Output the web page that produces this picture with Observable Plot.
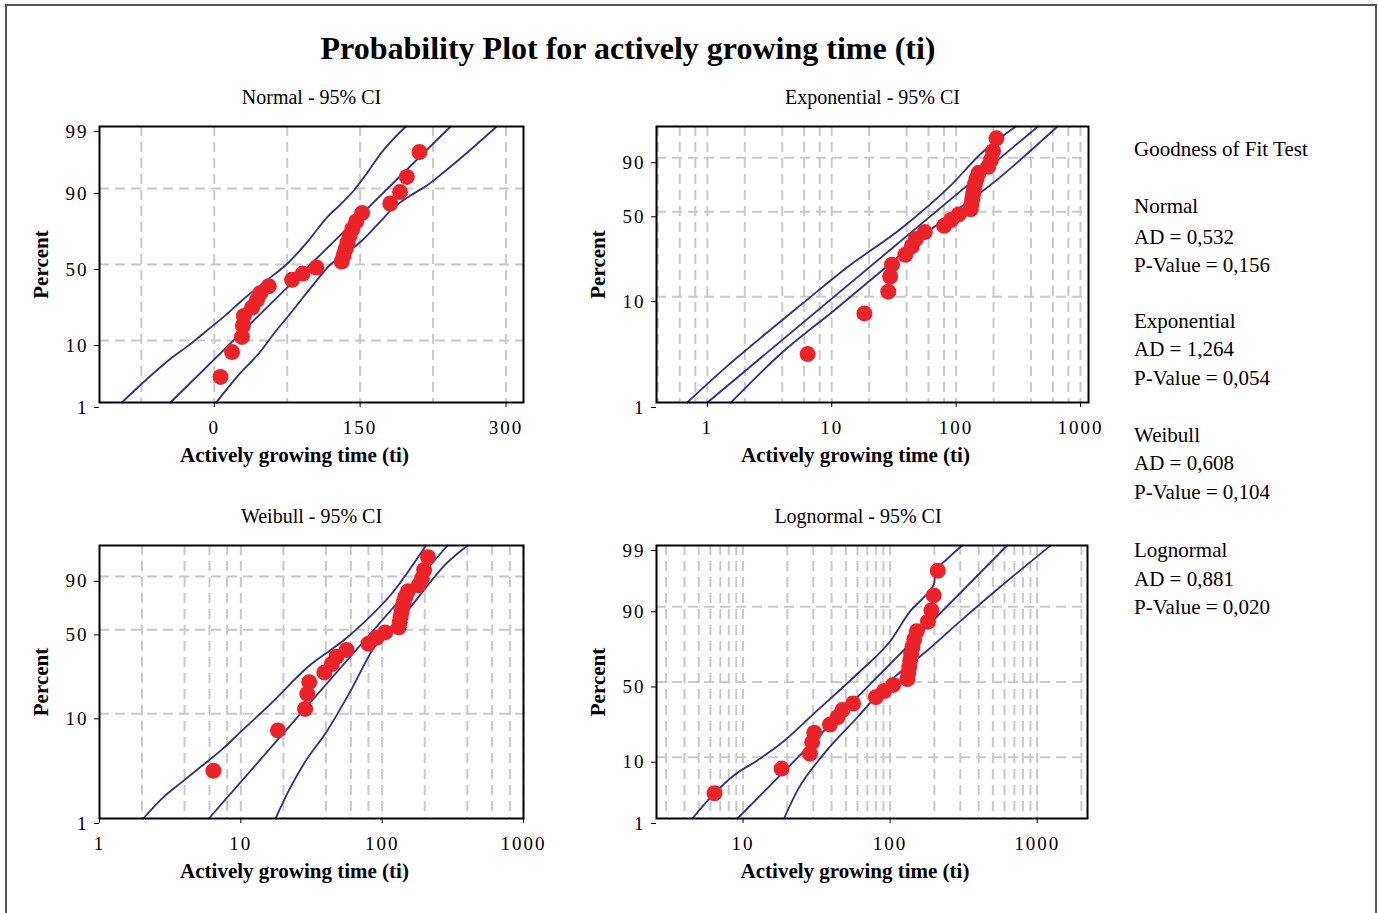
<!DOCTYPE html>
<html><head><meta charset="utf-8">
<script src="https://cdn.jsdelivr.net/npm/d3@7"></script>
<script src="https://cdn.jsdelivr.net/npm/@observablehq/plot@0.6"></script>
<style>
body{margin:0;background:#fff;}
#root{position:relative;width:1378px;height:913px;overflow:hidden;background:#fff;font-family:'Liberation Serif',serif;color:#000;}
#border{position:absolute;left:5px;top:4px;width:1372px;height:940px;border:2px solid #555;box-sizing:border-box;}
#title{position:absolute;left:0;width:1256px;top:29px;text-align:center;font-weight:bold;font-size:32px;line-height:38px;}
.panel{position:absolute;}
.panel svg [aria-label$="tick label"] text{letter-spacing:2px;}
.side{position:absolute;left:1134px;font-size:21px;line-height:24px;white-space:nowrap;}
</style>
</head><body>
<div id="root">
  <div id="border"></div>
  <div id="title">Probability Plot for actively growing time (ti)</div>
</div>
<script>
// ---- data ----
const growTime = [6.4, 18.3, 28.5, 29.5, 30.5, 39, 44, 47.5, 56, 80, 91, 105, 131, 133, 135, 137, 139, 142, 146, 152, 181, 191, 198, 211];
const rankPct  = [2.9, 7.0, 11.1, 15.2, 19.3, 23.4, 27.5, 31.6, 35.7, 39.8, 43.9, 48.0, 52.0, 56.1, 60.2, 64.3, 68.4, 72.5, 76.6, 80.7, 84.8, 88.9, 93.0, 97.1];

// Normal fit and 95% CI
const normalFitX = [-45, 243];           const normalFitP = [1, 99];
const normalLoX = [-95, -70, -45, -25, -7.5, 10, 28.5, 52, 75, 96, 116, 130, 143.5, 157, 171, 197];
const normalLoP = [1, 2.6, 5.6, 8.9, 13.3, 19.0, 27.2, 38.5, 50.5, 65.0, 78.7, 84.5, 89.4, 93.8, 96.9, 99];
const normalHiX = [2, 24, 47, 62, 78, 99, 119.5, 135, 150, 168, 185, 202, 219, 236, 253, 290.5];
const normalHiP = [1, 3.0, 7.0, 12.5, 20.3, 34.5, 50, 57.5, 64.6, 75.0, 83.3, 87.8, 90.9, 94.0, 96.3, 99];

// Exponential fit and 95% CI
const expFitX = [1.0, 455];              const expFitP = [1, 99];
const expLoX = [0.687, 1.37, 3.06, 6.0, 13.4, 36, 90.6, 158, 302];
const expLoP = [1, 2.11, 4.7, 8.9, 18.4, 37.9, 71.2, 91.9, 99];
const expHiX = [1.55, 3.91, 10.5, 26.4, 66.6, 202, 653];
const expHiP = [1, 2.94, 7.5, 17.8, 39, 73.8, 99];

// Weibull fit and 95% CI
const wblFitX = [5.94, 290];             const wblFitP = [1, 99];
const wblLoX = [2.04, 2.85, 3.9, 5.19, 7.2, 9.97, 16.3, 29.6, 56.8, 121.4, 204];
const wblLoP = [1, 1.62, 2.3, 3.15, 4.5, 6.77, 12.4, 25.9, 44.4, 81.1, 99];
const wblHiX = [17.6, 22, 28.0, 41, 60, 87.6, 151, 290, 402];
const wblHiP = [1, 1.9, 3.4, 7.0, 16.3, 37.4, 65.6, 95.7, 99];

// Lognormal fit and 95% CI
const lnFitX = [9.17, 625];              const lnFitP = [1, 99];
const lnLoX = [4.53, 6.2, 8.7, 12.5, 18.0, 32, 60, 101, 138, 170, 199, 204, 245, 309];
const lnLoP = [1, 2.66, 5.6, 9.06, 14.6, 31.4, 55.6, 76, 88.8, 92.6, 95.3, 97.0, 98.2, 99];
const lnHiX = [19, 23.4, 35.6, 60, 101, 179, 286, 522, 1236];
const lnHiP = [1, 3.2, 11.1, 27.4, 51, 70.4, 83.9, 94, 99];

// tick labels
const normalXTicks = [0, 150, 300];
const normalXGrid = [-75, 0, 75, 150, 225, 300];
const logXTicks = [1, 10, 100, 1000];
const expXGrid = [0.4, 0.6, 0.8, 1, 2, 4, 6, 8, 10, 20, 40, 60, 80, 100, 200, 400, 600, 800, 1000];
const wblXGrid = [2, 4, 6, 8, 10, 20, 40, 60, 80, 100, 200, 400, 600, 800, 1000];
const lnXGrid = [3, 4, 5, 6, 7, 8, 9, 10, 20, 30, 40, 50, 60, 70, 80, 90, 100, 200, 300, 400, 500, 600, 700, 800, 900, 1000, 2000];
const yTicksNormal = [1, 10, 50, 90, 99];
const yTicksSmallest = [1, 10, 50, 90];
const yGrid = [10, 50, 90];

const goodnessLines = [
  ["Goodness of Fit Test", 149],
  ["Normal", 206], ["AD = 0,532", 237], ["P-Value = 0,156", 265],
  ["Exponential", 321], ["AD = 1,264", 349], ["P-Value = 0,054", 378],
  ["Weibull", 435], ["AD = 0,608", 463], ["P-Value = 0,104", 492],
  ["Lognormal", 550], ["AD = 0,881", 579], ["P-Value = 0,020", 607]
];

// ---- probability-scale transforms ----
function probit(p) {
  const a=[-3.969683028665376e+01,2.209460984245205e+02,-2.759285104469687e+02,1.383577518672690e+02,-3.066479806614716e+01,2.506628277459239e+00];
  const b=[-5.447609879822406e+01,1.615858368580409e+02,-1.556989798598866e+02,6.680131188771972e+01,-1.328068155288572e+01];
  const c=[-7.784894002430293e-03,-3.223964580411365e-01,-2.400758277161838e+00,-2.549732539343734e+00,4.374664141464968e+00,2.938163982698783e+00];
  const d=[7.784695709041462e-03,3.224671290700398e-01,2.445134137142996e+00,3.754408661907416e+00];
  const pl=0.02425, ph=1-pl;
  if (p<pl){const q=Math.sqrt(-2*Math.log(p));return (((((c[0]*q+c[1])*q+c[2])*q+c[3])*q+c[4])*q+c[5])/((((d[0]*q+d[1])*q+d[2])*q+d[3])*q+1);}
  if (p<=ph){const q=p-0.5,r=q*q;return (((((a[0]*r+a[1])*r+a[2])*r+a[3])*r+a[4])*r+a[5])*q/(((((b[0]*r+b[1])*r+b[2])*r+b[3])*r+b[4])*r+1);}
  const q=Math.sqrt(-2*Math.log(1-p));return -(((((c[0]*q+c[1])*q+c[2])*q+c[3])*q+c[4])*q+c[5])/((((d[0]*q+d[1])*q+d[2])*q+d[3])*q+1);
}
const loglog = p => Math.log(-Math.log(1 - p));

const root = document.getElementById("root");
const LINE = "#2b2f8e", DOT = "#ec2229", GRID = "#c9c9c9";

function panel(cfg) {
  const [x0, y0, x1, y1] = cfg.frame;
  const mL = 80, mT = 40, mR = 40, mB = 80;
  const W = x1 - x0 + mL + mR, H = y1 - y0 + mT + mB;
  const yT = cfg.yT;
  const pts = growTime.map((x, i) => ({x, y: yT(rankPct[i] / 100)}));
  const lineMarks = cfg.lines.map(([xs, ps]) =>
    Plot.line(xs.map((x, i) => ({x, y: yT(ps[i] / 100)})), {x: "x", y: "y", stroke: LINE, strokeWidth: 1.8, curve: "monotone-x"}));
  const yTickVals = cfg.yTicks.map(p => yT(p / 100));
  const yLab = new Map(cfg.yTicks.map(p => [yT(p / 100), String(p)]));
  const chart = Plot.plot({
    width: W, height: H, marginLeft: mL, marginTop: mT, marginRight: mR, marginBottom: mB,
    style: {background: "transparent", fontFamily: "'Liberation Serif', serif", fontSize: "18px", overflow: "visible"},
    x: {type: cfg.xType, domain: cfg.xDomain, axis: null},
    y: {type: "linear", domain: [yT(0.01), yT(0.99)], axis: null},
    marks: [
      Plot.gridX({ticks: cfg.xGrid, stroke: GRID, strokeOpacity: 1, strokeWidth: 2, strokeDasharray: "10,6"}),
      Plot.gridY({ticks: yGrid.map(p => yT(p / 100)), stroke: GRID, strokeOpacity: 1, strokeWidth: 2, strokeDasharray: "10,6"}),
      ...lineMarks,
      Plot.dot(pts, {x: "x", y: "y", r: 8, fill: DOT, stroke: "none"}),
      Plot.frame({stroke: "#000", strokeWidth: 2}),
      Plot.axisX({ticks: cfg.xTicks, tickFormat: d => String(d), tickSize: 5, tickPadding: 13, fontSize: 19, label: null}),
      Plot.axisY({ticks: yTickVals, tickFormat: z => yLab.get(z), tickSize: 5, tickPadding: 6, fontSize: 19, dy: 5, label: null}),
      Plot.text([cfg.title], {text: d => d, frameAnchor: "top", lineAnchor: "middle", dy: -29, dx: cfg.titleDx || 0, fontSize: 20}),
      Plot.text(["Actively growing time (ti)"], {text: d => d, frameAnchor: "bottom", lineAnchor: "middle", dy: 53, dx: -17, fontWeight: "bold", fontSize: 21}),
      Plot.text(["Percent"], {text: d => d, frameAnchor: "left", textAnchor: "middle", lineAnchor: "middle", rotate: -90, dx: -58, fontWeight: "bold", fontSize: 21})
    ]
  });
  const div = document.createElement("div");
  div.className = "panel";
  div.style.left = (x0 - mL) + "px";
  div.style.top = (y0 - mT) + "px";
  div.appendChild(chart);
  root.appendChild(div);
}

panel({frame: [99, 126, 523, 402], xType: "linear", xDomain: [-118, 318], xTicks: normalXTicks, xGrid: normalXGrid,
  yT: probit, yTicks: yTicksNormal, title: "Normal - 95% CI",
  lines: [[normalFitX, normalFitP], [normalLoX, normalLoP], [normalHiX, normalHiP]]});
panel({frame: [656, 126, 1088, 402], xType: "log", xDomain: [0.39, 1160], xTicks: logXTicks, xGrid: expXGrid,
  yT: loglog, yTicks: yTicksSmallest, title: "Exponential - 95% CI",
  lines: [[expFitX, expFitP], [expLoX, expLoP], [expHiX, expHiP]]});
panel({frame: [99, 545, 523, 818], xType: "log", xDomain: [1, 1000], xTicks: logXTicks, xGrid: wblXGrid,
  yT: loglog, yTicks: yTicksSmallest, title: "Weibull - 95% CI",
  lines: [[wblFitX, wblFitP], [wblLoX, wblLoP], [wblHiX, wblHiP]]});
panel({frame: [656, 545, 1087, 818], xType: "log", xDomain: [2.58, 2200], xTicks: [10, 100, 1000], xGrid: lnXGrid,
  yT: probit, yTicks: yTicksNormal, title: "Lognormal - 95% CI", titleDx: -14,
  lines: [[lnFitX, lnFitP], [lnLoX, lnLoP], [lnHiX, lnHiP]]});

for (const [t, cy] of goodnessLines) {
  const d = document.createElement("div");
  d.className = "side";
  d.style.top = (cy - 12) + "px";
  d.textContent = t;
  root.appendChild(d);
}
</script>
</body></html>
